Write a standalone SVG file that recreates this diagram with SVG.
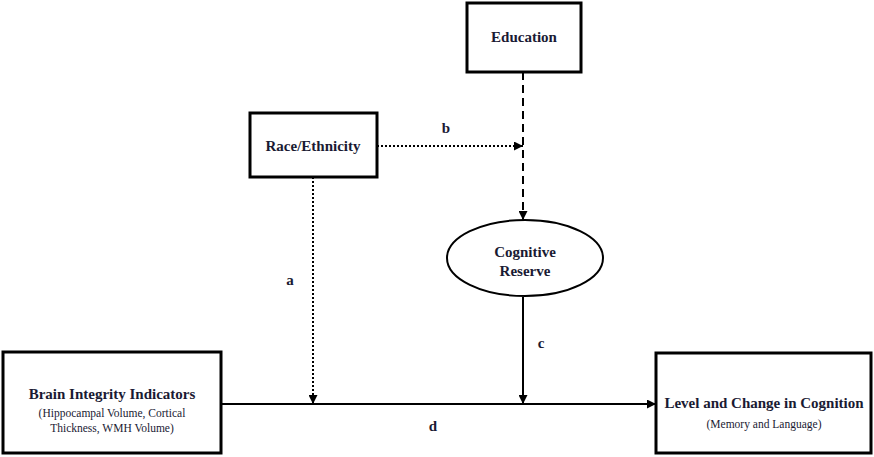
<svg xmlns="http://www.w3.org/2000/svg" width="874" height="457" viewBox="0 0 874 457">
<style>
.box{fill:#fff;stroke:#000;stroke-width:3}
.ell{fill:#fff;stroke:#000;stroke-width:2}
.t{font-family:"Liberation Serif",serif;font-weight:bold;font-size:15px;fill:#1a1a33;text-anchor:middle}
.s{font-family:"Liberation Serif",serif;font-size:11.5px;fill:#1a1a33;text-anchor:middle}
.ln{fill:none;stroke:#000;stroke-width:2}
.dot{stroke-dasharray:2 2}
.dash{stroke-dasharray:8 5}
</style>
<defs>
<marker id="ah" viewBox="0 0 10 10" refX="10" refY="5" markerWidth="4.5" markerHeight="4.5" orient="auto" markerUnits="strokeWidth">
<path d="M0,0 L10,5 L0,10 z" fill="#000"/>
</marker>
</defs>
<rect width="874" height="457" fill="#fff"/>
<g id="connectors">
<line class="ln dash" x1="523" y1="72" x2="523" y2="220" marker-end="url(#ah)"/>
<line class="ln dot" x1="377" y1="146" x2="523" y2="146" marker-end="url(#ah)"/>
<line class="ln dot" x1="313" y1="177" x2="313" y2="404" marker-end="url(#ah)"/>
<line class="ln" x1="523" y1="297" x2="523" y2="404" marker-end="url(#ah)"/>
<line class="ln" x1="221" y1="404" x2="656" y2="404" marker-end="url(#ah)"/>
<text class="t" x="446" y="133">b</text>
<text class="t" x="290" y="285">a</text>
<text class="t" x="541" y="348">c</text>
<text class="t" x="433" y="431">d</text>
</g>
<g id="education">
<rect class="box" x="467" y="3" width="114" height="69"/>
<text class="t" x="524" y="42">Education</text>
</g>
<g id="race">
<rect class="box" x="250" y="113" width="127" height="64"/>
<text class="t" x="313" y="151">Race/Ethnicity</text>
</g>
<g id="reserve">
<ellipse class="ell" cx="525" cy="258" rx="78" ry="38"/>
<text class="t" x="525" y="257">Cognitive</text>
<text class="t" x="525" y="276">Reserve</text>
</g>
<g id="brain">
<rect class="box" x="3" y="352" width="218" height="101"/>
<text class="t" x="112" y="399">Brain Integrity Indicators</text>
<text class="s" x="112" y="417">(Hippocampal Volume, Cortical</text>
<text class="s" x="112" y="432">Thickness, WMH Volume)</text>
</g>
<g id="cognition">
<rect class="box" x="656" y="353" width="215" height="100"/>
<text class="t" x="764" y="408">Level and Change in Cognition</text>
<text class="s" x="764" y="428">(Memory and Language)</text>
</g>
</svg>
